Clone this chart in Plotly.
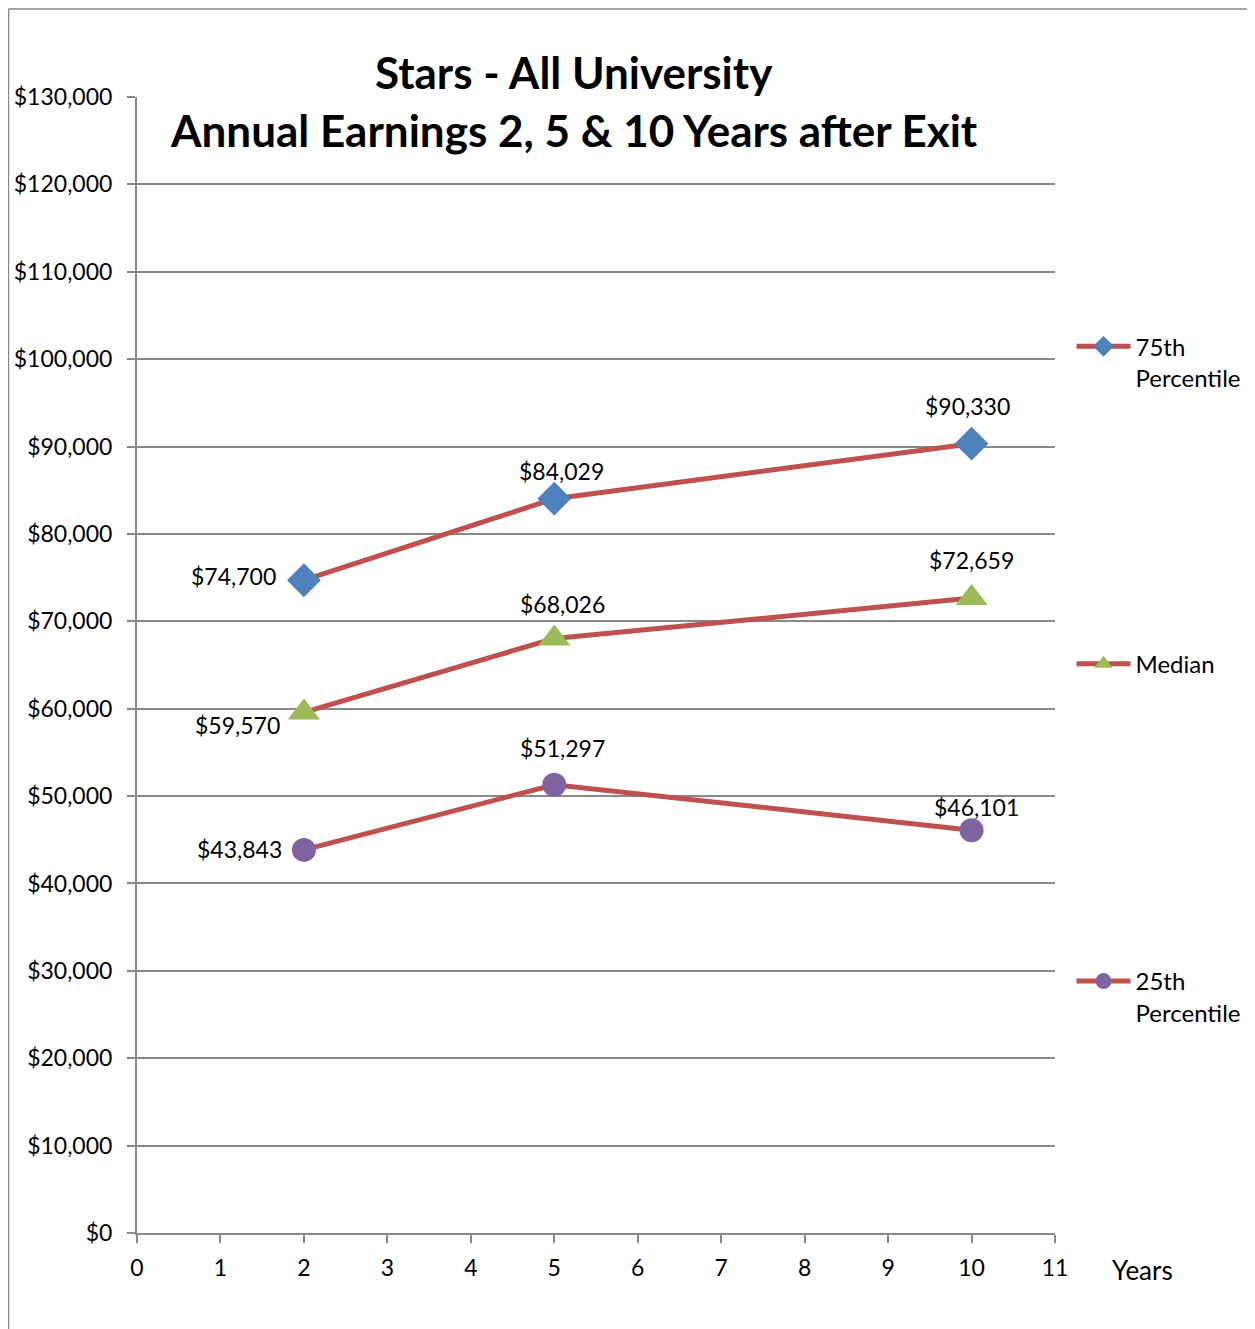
import plotly.graph_objects as go

years = [2, 5, 10]
p75 = [74700, 84029, 90330]
median = [59570, 68026, 72659]
p25 = [43843, 51297, 46101]
series_names = ["75th<br>Percentile", "Median<br>&nbsp;", "25th<br>Percentile"]
y_ticks = list(range(0, 130001, 10000))
y_tick_labels = ["$" + f"{v:,}" for v in y_ticks]
x_ticks = list(range(0, 12))

FONT = "Lato"
LINE = "#C0504D"
GRID = "#898989"

fig = go.Figure()
specs = [
    (p75, series_names[0], "diamond", "#4F81BD", 26),
    (median, series_names[1], "triangle-up", "#9BBB59", 28),
    (p25, series_names[2], "circle", "#8064A2", 24),
]
for vals, name, sym, col, sz in specs:
    fig.add_trace(go.Scatter(
        x=years, y=vals, name=name, mode="lines+markers",
        line=dict(color=LINE, width=5),
        marker=dict(symbol=sym, color=col, size=sz, line=dict(width=0)),
        legendgroup=name,
    ))

# data labels: (dx, dy) offsets in px per point
offsets = {
    0: [(-70, 4), (7, 28), (-4, 38)],
    1: [(-66, -13), (8, 35), (0, 38)],
    2: [(-64, 1), (8, 37), (5, 23)],
}
for si, (vals, *_rest) in enumerate(specs):
    for pi, (x, y) in enumerate(zip(years, vals)):
        dx, dy = offsets[si][pi]
        fig.add_annotation(x=x, y=y, text="$" + f"{y:,}", showarrow=False,
                           xshift=dx, yshift=dy,
                           font=dict(family=FONT, size=23, color="#000"))

fig.add_annotation(xref="paper", yref="paper", x=0.4755, y=1.022,
                   text="<b>Stars - All University</b>", showarrow=False,
                   yanchor="middle", font=dict(family=FONT, size=44, color="#000"))
fig.add_annotation(xref="paper", yref="paper", x=0.4755, y=0.971,
                   text="<b>Annual Earnings 2, 5 & 10 Years after Exit</b>", showarrow=False,
                   yanchor="middle", font=dict(family=FONT, size=44, color="#000"))
fig.add_annotation(xref="paper", yref="paper", x=1.0, y=0, xshift=55, yshift=-37,
                   text="Years", showarrow=False, xanchor="left", yanchor="middle",
                   font=dict(family=FONT, size=26, color="#000"))

# outer frame (left and top)
fig.add_shape(type="line", xref="paper", yref="paper", x0=-0.1400, x1=-0.1400, y0=-0.2, y1=1.0775,
              line=dict(color="#888", width=1.5))
fig.add_shape(type="line", xref="paper", yref="paper", x0=-0.1400, x1=1.3, y0=1.0775, y1=1.0775,
              line=dict(color="#888", width=1.5))

fig.update_xaxes(range=[0, 11], tickvals=x_ticks, showgrid=False, showline=True,
                 linecolor=GRID, linewidth=2, ticks="outside", ticklen=8, tickcolor=GRID,
                 tickwidth=2, ticklabelstandoff=5, automargin=False,
                 tickfont=dict(family=FONT, size=23, color="#000"), zeroline=False)
fig.update_yaxes(range=[0, 130000], tickvals=y_ticks, ticktext=y_tick_labels,
                 showgrid=True, gridcolor=GRID, gridwidth=1.5, showline=True,
                 linecolor=GRID, linewidth=2, ticks="outside", ticklen=8, tickcolor=GRID,
                 tickwidth=2, ticklabelstandoff=10, automargin=False,
                 tickfont=dict(family=FONT, size=23, color="#000"), zeroline=False)

fig.update_layout(
    width=1255, height=1329,
    margin=dict(l=129, r=208, t=89, b=104),
    plot_bgcolor="white", paper_bgcolor="white",
    showlegend=True,
    legend=dict(x=1.018, y=0.80, xanchor="left", yanchor="top", valign="top",
                font=dict(family=FONT, size=24, color="#000"),
                tracegroupgap=252, itemwidth=54, bgcolor="rgba(0,0,0,0)"),
)

fig.write_html("out.html")
